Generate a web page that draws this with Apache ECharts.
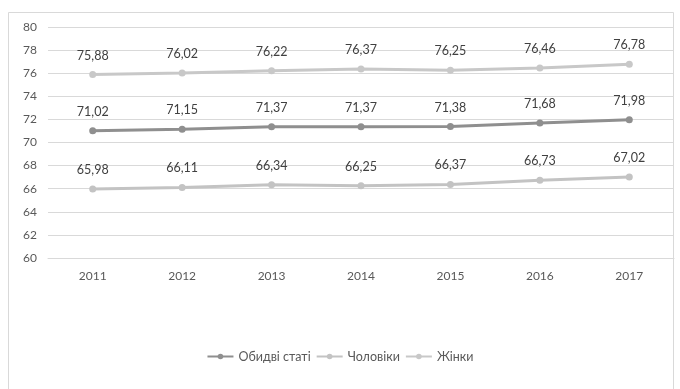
<!DOCTYPE html>
<html>
<head>
<meta charset="utf-8">
<script src="https://cdn.jsdelivr.net/npm/echarts@6/dist/echarts.min.js"></script>
<style>
  html, body { margin: 0; padding: 0; background: #fff; }
  #chart { width: 680px; height: 389px; }
</style>
</head>
<body>
<div id="chart"></div>
<script>
// Life expectancy by year, three series
const years = ['2011', '2012', '2013', '2014', '2015', '2016', '2017'];
const bothSexes = [71.02, 71.15, 71.37, 71.37, 71.38, 71.68, 71.98];
const men = [65.98, 66.11, 66.34, 66.25, 66.37, 66.73, 67.02];
const women = [75.88, 76.02, 76.22, 76.37, 76.25, 76.46, 76.78];
const seriesNames = ['Обидві статі', 'Чоловіки', 'Жінки'];

const FONT = 'Lato';
const fmt = v => v.toFixed(2).replace('.', ',');

function lineSeries(name, data, color) {
  return {
    name: name,
    type: 'line',
    data: data,
    symbol: 'circle',
    symbolSize: 7,
    lineStyle: { width: 3, color: color },
    itemStyle: { color: color },
    label: {
      show: true,
      position: 'top',
      distance: 9,
      formatter: p => fmt(p.value),
      color: '#404040',
      fontFamily: FONT,
      fontSize: 12.5
    },
    emphasis: { disabled: true },
    animation: false
  };
}

const chart = echarts.init(document.getElementById('chart'), null, { renderer: 'canvas' });
chart.setOption({
  backgroundColor: '#ffffff',
  animation: false,
  graphic: [{
    type: 'rect',
    shape: { x: 8.5, y: 12.5, width: 665, height: 390 },
    style: { fill: 'none', stroke: '#d9d9d9', lineWidth: 1 },
    silent: true,
    z: -1
  }],
  grid: { left: 48, right: 6, top: 27, bottom: 131, containLabel: false },
  legend: {
    data: seriesNames,
    bottom: 21,
    left: 'center',
    itemWidth: 26,
    itemHeight: 7,
    itemGap: 5,
    textStyle: { color: '#595959', fontFamily: FONT, fontSize: 12.5 }
  },
  xAxis: {
    type: 'category',
    data: years,
    boundaryGap: true,
    axisLine: { show: true, lineStyle: { color: '#d9d9d9' } },
    axisTick: { show: false },
    axisLabel: { color: '#595959', fontFamily: FONT, fontSize: 12, margin: 12 }
  },
  yAxis: {
    type: 'value',
    min: 60,
    max: 80,
    interval: 2,
    axisLine: { show: false },
    axisTick: { show: false },
    splitLine: { lineStyle: { color: '#d9d9d9', width: 1 } },
    axisLabel: { color: '#595959', fontFamily: FONT, fontSize: 12, margin: 11 }
  },
  series: [
    lineSeries(seriesNames[0], bothSexes, '#8f8f8f'),
    lineSeries(seriesNames[1], men, '#c3c3c3'),
    lineSeries(seriesNames[2], women, '#c8c8c8')
  ]
});
</script>
</body>
</html>
